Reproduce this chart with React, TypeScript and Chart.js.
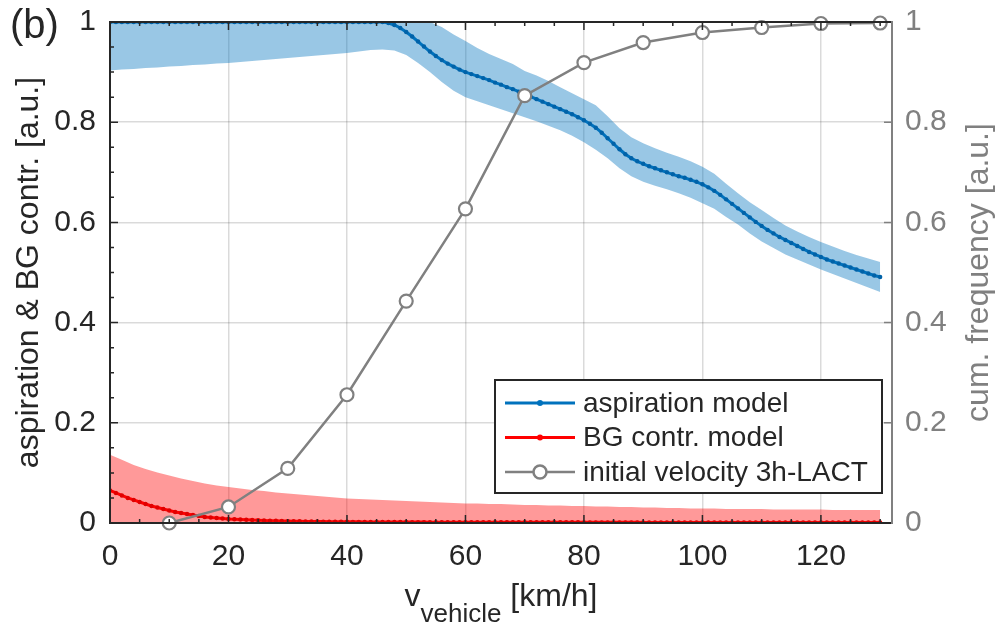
import { useEffect, useRef } from 'react';
import { Chart, registerables } from 'chart.js';

Chart.register(...registerables);

// ---------- data ----------
// model sample speeds (km/h)
const modelSpeed: number[] = Array.from({ length: 131 }, (_, i) => i);
const aspirationModel: number[] = [
  1, 1, 1, 1, 1, 1, 1, 1, 1, 1,
  1, 1, 1, 1, 1, 1, 1, 1, 1, 1,
  1, 1, 1, 1, 1, 1, 1, 1, 1, 1,
  1, 1, 1, 1, 1, 1, 1, 1, 1, 1,
  1, 1, 1, 1, 1, 1, 1, 0.998, 0.994, 0.988,
  0.980, 0.971, 0.961, 0.951, 0.941, 0.932, 0.924, 0.917, 0.911, 0.905,
  0.900, 0.896, 0.892, 0.888, 0.884, 0.879, 0.875, 0.870, 0.866, 0.861,
  0.856, 0.851, 0.846, 0.841, 0.836, 0.831, 0.826, 0.821, 0.816, 0.810,
  0.804, 0.797, 0.789, 0.779, 0.768, 0.757, 0.746, 0.736, 0.728, 0.722,
  0.717, 0.712, 0.708, 0.704, 0.700, 0.696, 0.692, 0.689, 0.685, 0.681,
  0.676, 0.670, 0.663, 0.655, 0.646, 0.637, 0.628, 0.619, 0.610, 0.601,
  0.593, 0.585, 0.578, 0.571, 0.565, 0.559, 0.553, 0.547, 0.541, 0.536,
  0.531, 0.526, 0.522, 0.518, 0.514, 0.510, 0.506, 0.502, 0.498, 0.494,
  0.491,
];
const bgContrModel: number[] = [
  0.065, 0.060, 0.055, 0.050, 0.046, 0.042, 0.038, 0.034, 0.031, 0.028,
  0.025, 0.022, 0.020, 0.018, 0.016, 0.014, 0.012, 0.011, 0.010, 0.009,
  0.008, 0.0075, 0.007, 0.0065, 0.006, 0.0055, 0.005, 0.0047, 0.0044, 0.0041,
  0.0038, 0.0036, 0.0034, 0.0032, 0.0030, 0.0029, 0.0028, 0.0027, 0.0026, 0.0025,
  0.0024, 0.0023, 0.0023, 0.0022, 0.0022, 0.0021, 0.0021, 0.0020, 0.0020, 0.0019,
  0.0019, 0.0018, 0.0018, 0.0018, 0.0017, 0.0017, 0.0017, 0.0016, 0.0016, 0.0016,
  0.0015, 0.0015, 0.0015, 0.0015, 0.0015, 0.0015, 0.0015, 0.0015, 0.0015, 0.0015,
  0.0014, 0.0014, 0.0014, 0.0014, 0.0014, 0.0014, 0.0014, 0.0014, 0.0014, 0.0014,
  0.0013, 0.0013, 0.0013, 0.0013, 0.0013, 0.0013, 0.0013, 0.0013, 0.0013, 0.0013,
  0.0012, 0.0012, 0.0012, 0.0012, 0.0012, 0.0012, 0.0012, 0.0012, 0.0012, 0.0012,
  0.0011, 0.0011, 0.0011, 0.0011, 0.0011, 0.0011, 0.0011, 0.0011, 0.0011, 0.0011,
  0.0010, 0.0010, 0.0010, 0.0010, 0.0010, 0.0010, 0.0010, 0.0010, 0.0010, 0.0010,
  0.0009, 0.0009, 0.0009, 0.0009, 0.0009, 0.0009, 0.0009, 0.0009, 0.0009, 0.0009,
  0.0009,
];

// uncertainty bands (sampled every 2 km/h)
const bandSpeed: number[] = Array.from({ length: 66 }, (_, i) => i * 2);
const aspirationUpper: number[] = [
  1, 1, 1, 1, 1, 1, 1, 1, 1, 1,
  1, 1, 1, 1, 1, 1, 1, 1, 1, 1,
  1, 1, 1, 1, 1, 1, 1, 1,
  0.990, 0.975, 0.962, 0.948, 0.936, 0.926, 0.916, 0.902, 0.893, 0.882,
  0.870, 0.858, 0.846, 0.834, 0.812, 0.788, 0.770, 0.758, 0.748, 0.739,
  0.731, 0.722, 0.711, 0.697, 0.677, 0.658, 0.640, 0.625, 0.609, 0.594,
  0.582, 0.571, 0.561, 0.552, 0.543, 0.535, 0.528, 0.521,
];
const aspirationLower: number[] = [
  0.903, 0.905, 0.906, 0.908, 0.909, 0.911, 0.912, 0.914, 0.915, 0.917,
  0.918, 0.920, 0.922, 0.924, 0.926, 0.928, 0.930, 0.932, 0.934, 0.936,
  0.938, 0.941, 0.944, 0.945, 0.943,
  0.934, 0.918, 0.900, 0.880, 0.863, 0.850, 0.842, 0.834, 0.826, 0.818,
  0.810, 0.802, 0.793, 0.784, 0.773, 0.760, 0.745, 0.728, 0.708, 0.692,
  0.681, 0.673, 0.666, 0.658, 0.649, 0.638, 0.627, 0.611, 0.596, 0.578,
  0.562, 0.549, 0.536, 0.526, 0.516, 0.506, 0.497, 0.488, 0.479, 0.470,
  0.461,
];
const bgContrUpper: number[] = [
  0.136, 0.126, 0.116, 0.108, 0.101, 0.095, 0.089, 0.084, 0.079, 0.075,
  0.072, 0.069, 0.066, 0.064, 0.061, 0.059, 0.057, 0.055, 0.053, 0.051,
  0.049, 0.048, 0.047, 0.046, 0.045, 0.044, 0.043, 0.042, 0.041, 0.040,
  0.039, 0.039, 0.038, 0.038, 0.037, 0.036, 0.036, 0.035, 0.035, 0.034,
  0.034, 0.033, 0.033, 0.032, 0.032, 0.031, 0.031, 0.030, 0.030, 0.029,
  0.029, 0.029, 0.028, 0.028, 0.028, 0.028, 0.027, 0.027, 0.027, 0.027,
  0.027, 0.026, 0.026, 0.026, 0.026, 0.026,
];

// measured cumulative frequency
const cumSpeed: number[] = [10, 20, 30, 40, 50, 60, 70, 80, 90, 100, 110, 120, 130];
const cumFrequency: number[] = [0, 0.032, 0.109, 0.256, 0.443, 0.627, 0.853, 0.919, 0.959, 0.979, 0.989, 0.997, 0.998];

// axes
const xTicks: number[] = [0, 20, 40, 60, 80, 100, 120];
const xTickLabels: string[] = ['0', '20', '40', '60', '80', '100', '120'];
const xMinorTicks: number[] = Array.from({ length: 27 }, (_, i) => i * 5);
const yTicks: number[] = [0, 0.2, 0.4, 0.6, 0.8, 1];
const yTickLabels: string[] = ['0', '0.2', '0.4', '0.6', '0.8', '1'];
const yMinorTicks: number[] = Array.from({ length: 21 }, (_, i) => i * 0.05);

const legendLabels: string[] = ['aspiration model', 'BG contr. model', 'initial velocity 3h-LACT'];

// ---------- styling ----------
const FONT = "'Liberation Sans', Arial, Helvetica, sans-serif";
const AXIS = '#262626';
const GRAY = '#808080';
const BLUE = '#0072BD';
const RED = '#FF0000';

const pts = (xs: number[], ys: number[]) => ys.map((y, i) => ({ x: xs[i], y }));

const zeroPad = (s: any) => {
  s.paddingTop = 0;
  s.paddingBottom = 0;
  s.paddingLeft = 0;
  s.paddingRight = 0;
};

const decorPlugin = {
  id: 'matlabDecor',
  afterDraw(chart: any) {
    const { ctx, chartArea: a, scales } = chart;
    const xs = scales.x;
    const yl = scales.y;
    const yr = scales.y1;
    ctx.save();

    // inward ticks: bottom & top
    ctx.strokeStyle = AXIS;
    ctx.lineWidth = 1.5;
    ctx.beginPath();
    for (const v of xMinorTicks) {
      const px = xs.getPixelForValue(v);
      const len = xTicks.includes(v) ? 8 : 4;
      ctx.moveTo(px, a.bottom);
      ctx.lineTo(px, a.bottom - len);
      ctx.moveTo(px, a.top);
      ctx.lineTo(px, a.top + len);
    }
    for (const v of yMinorTicks) {
      const py = yl.getPixelForValue(v);
      const major = Math.abs(v * 5 - Math.round(v * 5)) < 1e-6;
      const len = major ? 8 : 4;
      ctx.moveTo(a.left, py);
      ctx.lineTo(a.left + len, py);
    }
    ctx.stroke();

    ctx.strokeStyle = GRAY;
    ctx.beginPath();
    for (const v of yTicks) {
      const py = yr.getPixelForValue(v);
      ctx.moveTo(a.right, py);
      ctx.lineTo(a.right - 8, py);
    }
    ctx.stroke();

    // axes lines
    ctx.lineWidth = 2;
    ctx.strokeStyle = AXIS;
    ctx.beginPath();
    ctx.moveTo(a.right, a.top);
    ctx.lineTo(a.left, a.top);
    ctx.lineTo(a.left, a.bottom);
    ctx.lineTo(a.right, a.bottom);
    ctx.stroke();
    ctx.strokeStyle = GRAY;
    ctx.beginPath();
    ctx.moveTo(a.right, a.top - 1);
    ctx.lineTo(a.right, a.bottom + 1);
    ctx.stroke();

    // legend
    const lw = 387, lh = 113;
    const lx = a.right - 10 - lw;
    const ly = a.bottom - 30 - lh;
    ctx.fillStyle = '#ffffff';
    ctx.fillRect(lx, ly, lw, lh);
    ctx.lineWidth = 2;
    ctx.strokeStyle = AXIS;
    ctx.strokeRect(lx, ly, lw, lh);
    const colors = [BLUE, RED, GRAY];
    ctx.font = `28px ${FONT}`;
    ctx.textBaseline = 'middle';
    ctx.textAlign = 'left';
    legendLabels.forEach((lab, i) => {
      const cy = ly + 23 + i * 34.5;
      ctx.strokeStyle = colors[i];
      ctx.lineWidth = i === 2 ? 2.5 : 3;
      ctx.beginPath();
      ctx.moveTo(lx + 10, cy);
      ctx.lineTo(lx + 80, cy);
      ctx.stroke();
      if (i < 2) {
        ctx.fillStyle = colors[i];
        ctx.beginPath();
        ctx.arc(lx + 45, cy, 3, 0, Math.PI * 2);
        ctx.fill();
      } else {
        ctx.fillStyle = '#ffffff';
        ctx.beginPath();
        ctx.arc(lx + 45, cy, 6.5, 0, Math.PI * 2);
        ctx.fill();
        ctx.stroke();
      }
      ctx.fillStyle = AXIS;
      ctx.fillText(lab, lx + 88, cy + 1);
    });

    // axis titles
    const cyMid = (a.top + a.bottom) / 2;
    ctx.font = `32px ${FONT}`;
    ctx.textAlign = 'center';
    ctx.textBaseline = 'alphabetic';
    ctx.fillStyle = AXIS;
    ctx.save();
    ctx.translate(38, cyMid);
    ctx.rotate(-Math.PI / 2);
    ctx.fillText('aspiration & BG contr. [a.u.]', 0, 0);
    ctx.restore();
    ctx.fillStyle = GRAY;
    ctx.save();
    ctx.translate(988, cyMid);
    ctx.rotate(-Math.PI / 2);
    ctx.fillText('cum. frequency [a.u.]', 0, 0);
    ctx.restore();

    // x title with subscript
    ctx.fillStyle = AXIS;
    ctx.textAlign = 'left';
    ctx.font = `32px ${FONT}`;
    const wV = ctx.measureText('v').width;
    const wUnit = ctx.measureText(' [km/h]').width;
    ctx.font = `26px ${FONT}`;
    const wSub = ctx.measureText('vehicle').width;
    const total = wV + wSub + wUnit;
    let x0 = (a.left + a.right) / 2 - total / 2;
    const base = 606;
    ctx.font = `32px ${FONT}`;
    ctx.fillText('v', x0, base);
    x0 += wV;
    ctx.font = `26px ${FONT}`;
    ctx.fillText('vehicle', x0, base + 16);
    x0 += wSub;
    ctx.font = `32px ${FONT}`;
    ctx.fillText(' [km/h]', x0, base);

    // panel label
    ctx.font = `40px ${FONT}`;
    ctx.fillText('(b)', 10, 38);

    ctx.restore();
  },
};

export default function App() {
  const canvasRef = useRef<HTMLCanvasElement | null>(null);

  useEffect(() => {
    document.body.style.margin = '0';
    if (!canvasRef.current) return;
    Chart.defaults.font.family = FONT;
    const chart = new Chart(canvasRef.current, {
      type: 'line',
      data: {
        datasets: [
          {
            label: legendLabels[2],
            data: pts(cumSpeed, cumFrequency),
            yAxisID: 'y1',
            borderColor: GRAY,
            borderWidth: 2.5,
            pointRadius: 6.5,
            pointBorderWidth: 2.2,
            pointBackgroundColor: '#ffffff',
            pointBorderColor: GRAY,
            fill: false,
            clip: false,
          } as any,
          {
            label: legendLabels[0],
            data: pts(modelSpeed, aspirationModel),
            yAxisID: 'y',
            borderColor: BLUE,
            borderWidth: 3,
            pointRadius: 2.2,
            pointBorderWidth: 0,
            pointBackgroundColor: '#0062a8',
            fill: false,
          },
          {
            label: legendLabels[1],
            data: pts(modelSpeed, bgContrModel),
            yAxisID: 'y',
            borderColor: RED,
            borderWidth: 3,
            pointRadius: 2.2,
            pointBorderWidth: 0,
            pointBackgroundColor: '#e00000',
            fill: false,
          },
          {
            label: 'aspiration band upper',
            data: pts(bandSpeed, aspirationUpper),
            yAxisID: 'y',
            borderWidth: 0,
            borderColor: 'rgba(0,0,0,0)',
            pointRadius: 0,
            backgroundColor: 'rgba(0,114,189,0.4)',
            fill: '+1',
          },
          {
            label: 'aspiration band lower',
            data: pts(bandSpeed, aspirationLower),
            yAxisID: 'y',
            borderWidth: 0,
            borderColor: 'rgba(0,0,0,0)',
            pointRadius: 0,
            fill: false,
          },
          {
            label: 'BG band upper',
            data: pts(bandSpeed, bgContrUpper),
            yAxisID: 'y',
            borderWidth: 0,
            borderColor: 'rgba(0,0,0,0)',
            pointRadius: 0,
            backgroundColor: 'rgba(255,0,0,0.4)',
            fill: 'origin',
          },
        ],
      },
      options: {
        animation: false,
        responsive: true,
        maintainAspectRatio: false,
        layout: { padding: { top: 22, left: 0, right: 0, bottom: 0 } },
        plugins: { legend: { display: false }, tooltip: { enabled: false } },
        elements: { line: { tension: 0 } },
        scales: {
          x: {
            type: 'linear',
            min: 0,
            max: 132,
            afterBuildTicks: (s: any) => { s.ticks = xTicks.map((v) => ({ value: v })); },
            afterFit: (s: any) => { s.height = 107; zeroPad(s); },
            ticks: {
              padding: 16,
              color: AXIS,
              font: { size: 30, family: FONT },
              maxRotation: 0,
              callback: (_v: any, i: number) => xTickLabels[i],
            },
            grid: { color: 'rgba(38,38,38,0.17)', lineWidth: 1.5, drawTicks: false },
            border: { display: false },
          },
          y: {
            type: 'linear',
            position: 'left',
            min: 0,
            max: 1,
            afterBuildTicks: (s: any) => { s.ticks = yTicks.map((v) => ({ value: v })); },
            afterFit: (s: any) => { s.width = 110; zeroPad(s); },
            ticks: {
              padding: 14,
              color: AXIS,
              font: { size: 30, family: FONT },
              callback: (_v: any, i: number) => yTickLabels[i],
            },
            grid: { color: 'rgba(38,38,38,0.17)', lineWidth: 1.5, drawTicks: false },
            border: { display: false },
          },
          y1: {
            type: 'linear',
            position: 'right',
            min: 0,
            max: 1,
            afterBuildTicks: (s: any) => { s.ticks = yTicks.map((v) => ({ value: v })); },
            afterFit: (s: any) => { s.width = 107; zeroPad(s); },
            ticks: {
              padding: 13,
              color: GRAY,
              font: { size: 30, family: FONT },
              callback: (_v: any, i: number) => yTickLabels[i],
            },
            grid: { display: false, drawTicks: false },
            border: { display: false },
          },
        },
      } as any,
      plugins: [decorPlugin],
    });
    return () => chart.destroy();
  }, []);

  return (
    <div style={{ width: 999, height: 630, position: 'relative', background: '#fff' }}>
      <canvas ref={canvasRef} />
    </div>
  );
}
